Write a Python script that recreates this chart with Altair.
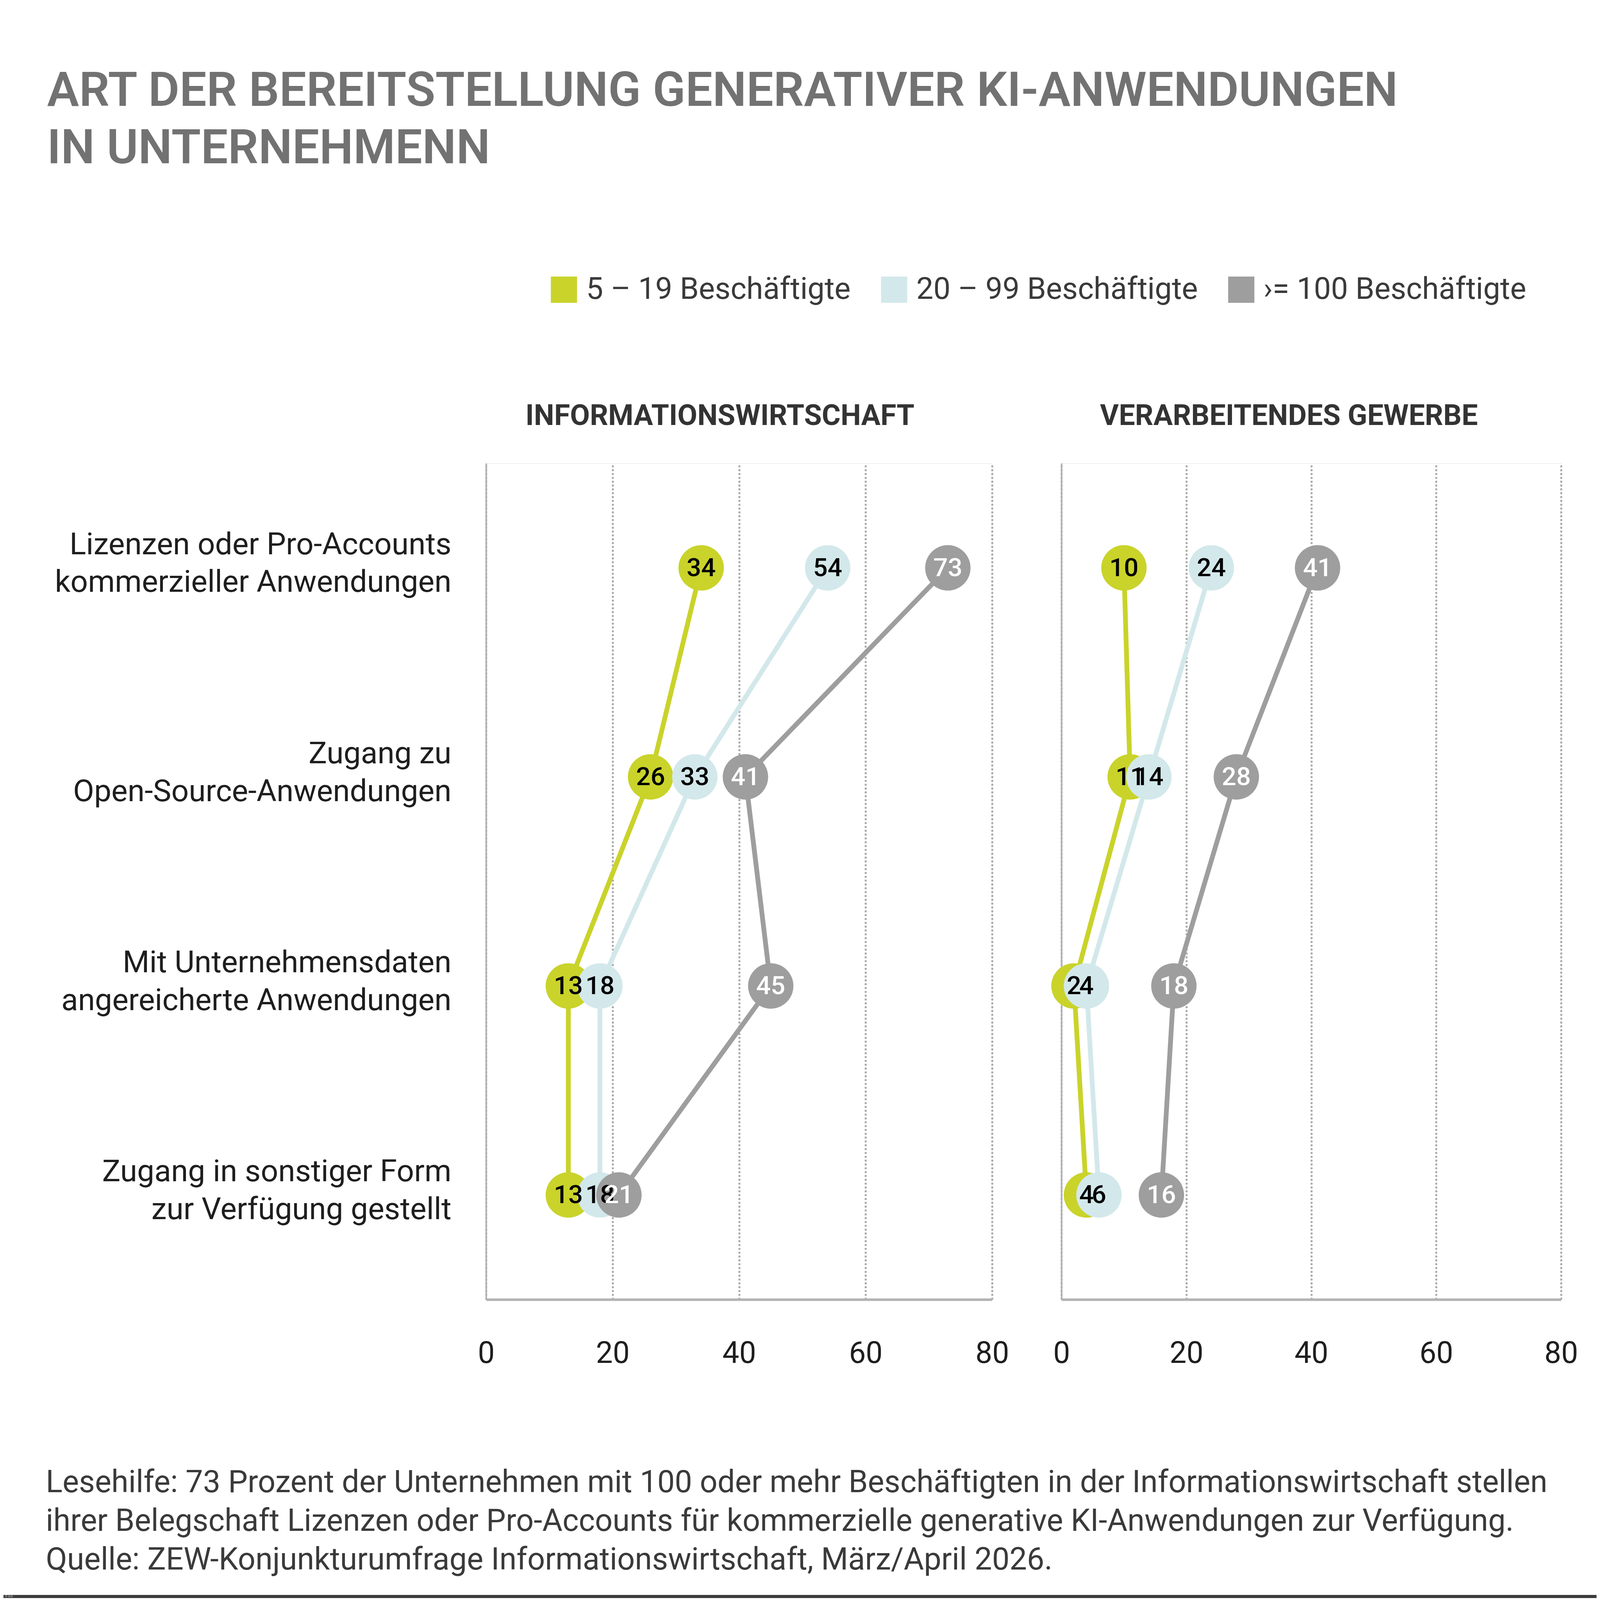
import altair as alt
import pandas as pd

# ---------------- data ----------------
panels = ["INFORMATIONSWIRTSCHAFT", "VERARBEITENDES GEWERBE"]
categories = [
    "Lizenzen oder Pro-Accounts|kommerzieller Anwendungen",
    "Zugang zu|Open-Source-Anwendungen",
    "Mit Unternehmensdaten|angereicherte Anwendungen",
    "Zugang in sonstiger Form|zur Verfügung gestellt",
]
series = ["5 – 19 Beschäftigte", "20 – 99 Beschäftigte", "›= 100 Beschäftigte"]
series_colors = ["#c9d32a", "#d3e8eb", "#9e9e9e"]
label_colors = ["#000000", "#000000", "#ffffff"]

info_small = [34, 26, 13, 13]
info_mid = [54, 33, 18, 18]
info_large = [73, 41, 45, 21]
verarb_small = [10, 11, 2, 4]
verarb_mid = [24, 14, 4, 6]
verarb_large = [41, 28, 18, 16]

x_ticks = [0, 20, 40, 60, 80]

title_lines = ["ART DER BEREITSTELLUNG GENERATIVER KI-ANWENDUNGEN", "IN UNTERNEHMENN"]
footer_lines = [
    "Lesehilfe: 73 Prozent der Unternehmen mit 100 oder mehr Beschäftigten in der Informationswirtschaft stellen",
    "ihrer Belegschaft Lizenzen oder Pro-Accounts für kommerzielle generative KI-Anwendungen zur Verfügung.",
    "Quelle: ZEW-Konjunkturumfrage Informationswirtschaft, März/April 2026.",
]
credit = ["© ZEW"]

panel_values = {
    panels[0]: [info_small, info_mid, info_large],
    panels[1]: [verarb_small, verarb_mid, verarb_large],
}

rows = []
for p, vals in panel_values.items():
    for si, s in enumerate(series):
        for ci, c in enumerate(categories):
            rows.append(dict(panel=p, series=s, s_i=si, cat=c, c_i=ci,
                             value=vals[si][ci], txtcol=label_colors[si]))
df = pd.DataFrame(rows)

FONT = "Roboto"
TXT = "#1e1e1e"
AX = "#b3b3b3"
PLOT_H = 2616

color_scale = alt.Scale(domain=series, range=series_colors)

legend = alt.Legend(
    title=None, orient="none", legendX=196, legendY=-591, direction="horizontal",
    symbolType="square", symbolSize=6724, symbolStrokeWidth=0, symbolOpacity=1,
    labelFontSize=95, labelFont=FONT, labelColor="#3a3a3a", labelOffset=22,
    columnPadding=88, labelLimit=3000, padding=0, offset=0,
)


def make_panel(name, width, left, hdr_x):
    base = alt.Chart(df).transform_filter(alt.datum.panel == name)
    x_axis = alt.Axis(
        orient="bottom",
        values=x_ticks, format="d", grid=True, gridDash=[6, 6], gridWidth=6,
        gridColor="#a8a8a8", domainColor=AX, domainWidth=8, ticks=False, tickSize=0,
        labelPadding=124, labelFontSize=94, labelColor=TXT, labelFont=FONT,
        labelFontWeight=400, labelFlush=False, labelOverlap=False,
        title=footer_lines if left else None,
        titleX=-1378, titleY=525, titleAnchor="start", titleAlign="left",
        titleBaseline="top", titleAngle=0, titleFontSize=97, titleFontWeight=400,
        titleColor="#3a3a3a", titleFont=FONT, titleLineHeight=121,
    )
    top_axis = alt.Axis(
        orient="top", labels=False, ticks=False, domain=False, grid=False,
        domainOpacity=0, tickOpacity=0,
        title=name, titleX=hdr_x, titleY=-120, titleAlign="center",
        titleBaseline="alphabetic", titleAngle=0, titleFontSize=90,
        titleFontWeight=700, titleFont=FONT, titleColor="#333333",
    )
    x = alt.X("value:Q", scale=alt.Scale(domain=[0, 80], nice=False), axis=x_axis)
    x_top = alt.X("value:Q", scale=alt.Scale(domain=[0, 80], nice=False), axis=top_axis)
    y_axis = alt.Axis(
        labels=left, labelExpr="split(datum.label, '|')", labelFontSize=96,
        labelLineHeight=118, labelPadding=109, labelLimit=3000, labelColor=TXT,
        labelFont=FONT, labelFontWeight=400, labelAlign="right", labelBaseline="middle",
        labelOffset=-72,
        ticks=False, tickSize=0, domainColor=AX, domainWidth=5, grid=False,
        title=title_lines if left else None,
        titleX=-1374, titleY=-1238, titleAngle=0, titleAlign="left",
        titleBaseline="top", titleAnchor="start", titleFontSize=150,
        titleFontWeight=600, titleFont=FONT, titleColor="#727272", titleLineHeight=180,
    )
    y = alt.Y("cat:N", sort=categories, scale=alt.Scale(type="point", padding=0.5), axis=y_axis)

    lines = base.mark_line(strokeWidth=15).encode(
        x=x, y=y,
        stroke=alt.Stroke("series:N", scale=color_scale, legend=None),
        detail="series:N", order="c_i:Q",
    )
    dots = base.mark_circle(size=20164, opacity=1).encode(
        x=x, y=y,
        color=alt.Color("series:N", scale=color_scale, sort=series,
                        legend=legend if left else None),
        order="s_i:Q",
    )
    labels = base.mark_text(fontSize=80, fontWeight=500, font=FONT,
                            align="center", baseline="middle", dy=2).encode(
        x=x_top, y=y, text=alt.Text("value:Q", format="d"),
        fill=alt.Fill("txtcol:N", scale=None),
    )
    main = alt.layer(lines, dots)
    layers = [main, labels]
    if left:
        strip_df = pd.DataFrame({"t": credit})
        # page frame: thin white top anchor and dark bottom strip
        top_anchor = alt.Chart(strip_df).mark_rect(color="white").encode(
            x=alt.value(-1510), x2=alt.value(3474), y=alt.value(-1434), y2=alt.value(-1433)
        )
        strip = alt.Chart(strip_df).mark_rect(color="#3c3c3c").encode(
            x=alt.value(-1510), x2=alt.value(3474), y=alt.value(3540), y2=alt.value(3550)
        )
        strip_txt = alt.Chart(strip_df).mark_text(
            fontSize=8, color="#c8c8c8", align="left", baseline="middle", font=FONT
        ).encode(x=alt.value(-1505), y=alt.value(3545), text="t:N")
        layers += [top_anchor, strip, strip_txt]
    return alt.layer(*layers).resolve_scale(x="independent").properties(
        width=width, height=PLOT_H
    )


left = make_panel(panels[0], 1583, True, 731)
right = make_panel(panels[1], 1563, False, 711)

chart = alt.hconcat(left, right, spacing=217, bounds="flush").resolve_scale(
    color="shared", stroke="shared", x="independent", y="shared"
).resolve_legend(color="independent").properties(
    padding={"left": 0, "top": -494, "right": 0, "bottom": 0},
).configure_view(strokeWidth=0, strokeOpacity=0, stroke="transparent").configure(
    font=FONT, background="white"
)

chart.save("out.html", embed_options={"renderer": "svg", "actions": False})
